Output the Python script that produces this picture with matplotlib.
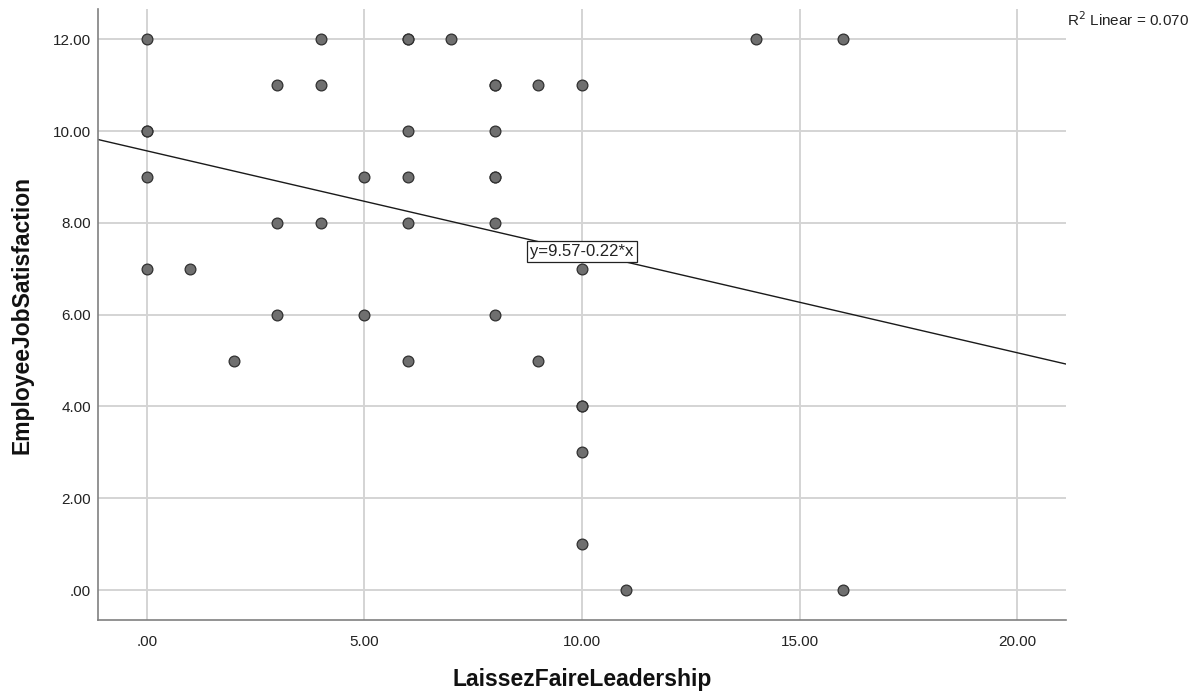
import matplotlib.pyplot as plt
import numpy as np

# Laissez-faire leadership score vs. job satisfaction (one row per respondent)
leadership = [0, 4, 6, 6, 7, 14, 16,
              3, 4, 8, 8, 9, 10,
              0, 0, 6, 8,
              0, 5, 6, 8, 8,
              3, 4, 6, 8,
              0, 1, 10,
              3, 5, 8,
              2, 6, 9,
              10, 10,
              10,
              10,
              11, 16]
satisfaction = [12, 12, 12, 12, 12, 12, 12,
                11, 11, 11, 11, 11, 11,
                10, 10, 10, 10,
                9, 9, 9, 9, 9,
                8, 8, 8, 8,
                7, 7, 7,
                6, 6, 6,
                5, 5, 5,
                4, 4,
                3,
                1,
                0, 0]

# linear fit as reported
intercept = 9.57
slope = -0.22
r_squared = 0.070

x_ticks = [0, 5, 10, 15, 20]
x_tick_labels = ['.00', '5.00', '10.00', '15.00', '20.00']
y_ticks = [0, 2, 4, 6, 8, 10, 12]
y_tick_labels = ['.00', '2.00', '4.00', '6.00', '8.00', '10.00', '12.00']

plt.rcParams['font.family'] = ['Liberation Sans', 'DejaVu Sans']

fig = plt.figure(figsize=(11.96, 6.93), dpi=100)
ax = fig.add_axes([0.0817, 0.1053, 0.8096, 0.8817])

xlim = (-1.126, 21.12)
ylim = (-0.654, 12.66)
ax.set_xlim(*xlim)
ax.set_ylim(*ylim)

ax.grid(True, color='#d4d4d4', linewidth=1.4)
ax.set_axisbelow(True)

ax.scatter(leadership, satisfaction, s=60, color='#6f6f6f',
           edgecolors='#303030', linewidths=0.9, zorder=3)

# regression line over the whole x range
xs = np.array(xlim)
ax.plot(xs, intercept + slope * xs, color='#1a1a1a', linewidth=1.0, zorder=2)

ax.text(10, intercept + slope * 10, f'y={intercept:.2f}{slope:+.2f}*x',
        ha='center', va='center', fontsize=12, color='#222222', zorder=5,
        bbox=dict(boxstyle='square,pad=0.18', facecolor='white',
                  edgecolor='#222222', linewidth=0.9))

fig.text(0.892, 0.962, f'R$^2$ Linear = {r_squared:.3f}', fontsize=11,
         color='#222222', ha='left', va='baseline')

ax.set_xticks(x_ticks)
ax.set_xticklabels(x_tick_labels)
ax.set_yticks(y_ticks)
ax.set_yticklabels(y_tick_labels)
ax.tick_params(length=0, labelsize=11, colors='#222222', pad=5)
ax.tick_params(axis='x', pad=11)

for side in ['top', 'right']:
    ax.spines[side].set_visible(False)
for side in ['left', 'bottom']:
    ax.spines[side].set_color('#808080')
    ax.spines[side].set_linewidth(1.2)

fig.text(0.4866, 0.019, 'LaissezFaireLeadership', fontsize=16.5, fontweight='bold',
         ha='center', va='center', color='#111111')
fig.text(0.018, 0.546, 'EmployeeJobSatisfaction', fontsize=16.5, fontweight='bold',
         ha='center', va='center', rotation=90, color='#111111')

fig.savefig('out.png', dpi=100)
